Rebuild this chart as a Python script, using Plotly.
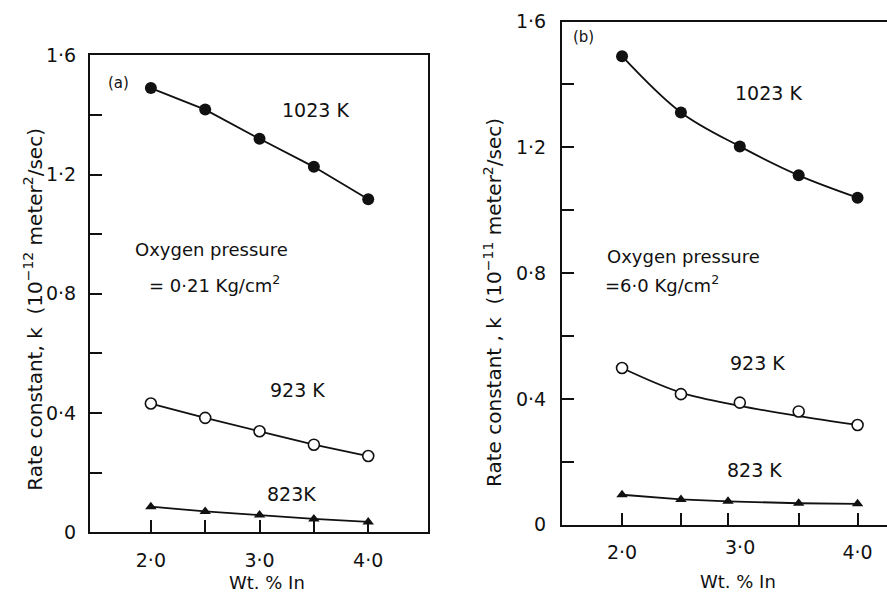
import plotly.graph_objects as go

# ---------------- data ----------------
wt_a = [2.0, 2.5, 3.0, 3.5, 4.0]
k1023_a = [1.49, 1.418, 1.32, 1.226, 1.117]
k923_a = [0.432, 0.384, 0.339, 0.294, 0.256]
k823_a = [0.086, 0.070, 0.058, 0.045, 0.035]

wt_b = [2.0, 2.5, 3.0, 3.5, 4.0]
wt_b823 = [2.0, 2.5, 2.9, 3.5, 4.0]
k1023_b = [1.49, 1.311, 1.203, 1.111, 1.040]
k923_b = [0.498, 0.415, 0.388, 0.360, 0.317]
k923_b_fit = [0.498, 0.420, 0.378, 0.345, 0.317]
k823_b = [0.095, 0.080, 0.074, 0.068, 0.066]

ytick_vals = [0, 0.4, 0.8, 1.2, 1.6]
ytick_text = ["0", "0·4", "0·8", "1·2", "1·6"]
yminor_vals = [0.2, 0.6, 1.0, 1.4]
xtick_vals_a = [2.0, 3.0, 4.0]
xtick_text_a = ["2·0", "3·0", "4·0"]
xminor_vals_a = [2.5, 3.5]
xtick_vals_b = [2.0, 4.0]
xtick_text_b = ["2·0", "4·0"]
xminor_vals_b = [2.5, 2.9, 3.5]
xlabel_b_mid = "3·0"

W, H = 887, 605
FONT = "DejaVu Sans"
BLACK = "#111111"

def px(x):
    return x / W

def py(y):
    return 1 - y / H

fig = go.Figure()

line_style = dict(color=BLACK, width=1.8)

# Panel (a)
fig.add_trace(go.Scatter(x=wt_a, y=k1023_a, mode="lines+markers", line=line_style,
                         marker=dict(symbol="circle", size=12, color=BLACK),
                         xaxis="x", yaxis="y", showlegend=False))
fig.add_trace(go.Scatter(x=wt_a, y=k923_a, mode="lines+markers", line=line_style,
                         marker=dict(symbol="circle", size=11, color="white",
                                     line=dict(color=BLACK, width=1.6)),
                         xaxis="x", yaxis="y", showlegend=False))
fig.add_trace(go.Scatter(x=wt_a, y=k823_a, mode="lines+markers", line=line_style,
                         marker=dict(symbol="triangle-up", size=10, color=BLACK),
                         xaxis="x", yaxis="y", showlegend=False))

# Panel (b)
fig.add_trace(go.Scatter(x=wt_b, y=k1023_b, mode="lines+markers",
                         line=dict(color=BLACK, width=1.8, shape="spline", smoothing=1.0),
                         marker=dict(symbol="circle", size=12, color=BLACK),
                         xaxis="x2", yaxis="y2", showlegend=False))
fig.add_trace(go.Scatter(x=wt_b, y=k923_b_fit, mode="lines",
                         line=dict(color=BLACK, width=1.8, shape="spline", smoothing=1.0),
                         xaxis="x2", yaxis="y2", showlegend=False))
fig.add_trace(go.Scatter(x=wt_b, y=k923_b, mode="markers",
                         marker=dict(symbol="circle", size=11, color="white",
                                     line=dict(color=BLACK, width=1.6)),
                         xaxis="x2", yaxis="y2", showlegend=False))
fig.add_trace(go.Scatter(x=wt_b823, y=k823_b, mode="lines+markers", line=line_style,
                         marker=dict(symbol="triangle-up", size=10, color=BLACK),
                         xaxis="x2", yaxis="y2", showlegend=False))

tickfont = dict(family=FONT, size=19, color=BLACK)
axis_common = dict(showline=True, linecolor=BLACK, linewidth=2, showgrid=False,
                   zeroline=False, ticks="inside", ticklen=12, tickwidth=2,
                   tickcolor=BLACK, tickfont=tickfont, tickmode="array")

def minor(vals):
    return dict(tickmode="array", tickvals=vals, ticks="inside", ticklen=12,
                tickwidth=2, tickcolor=BLACK, showgrid=False)

fig.update_layout(
    width=W, height=H,
    margin=dict(l=0, r=0, t=0, b=0),
    paper_bgcolor="white", plot_bgcolor="white",
    xaxis=dict(domain=[px(90), px(428)], range=[1.44, 4.55], anchor="y",
               tickvals=xtick_vals_a, ticktext=xtick_text_a, minor=minor(xminor_vals_a),
               mirror=True, ticklabelstandoff=10, **axis_common),
    yaxis=dict(domain=[py(541), py(46)], range=[0, 1.6], anchor="x",
               tickvals=ytick_vals, ticktext=ytick_text, minor=minor(yminor_vals),
               mirror=True, ticklabelstandoff=8, **axis_common),
    xaxis2=dict(domain=[px(562), 1.0], range=[1.49, 4.25], anchor="y2",
                tickvals=xtick_vals_b, ticktext=xtick_text_b, minor=minor(xminor_vals_b),
                mirror=True, ticklabelstandoff=10, **axis_common),
    yaxis2=dict(domain=[py(533), py(11)], range=[0, 1.6], anchor="x2",
                tickvals=ytick_vals, ticktext=ytick_text, minor=minor(yminor_vals),
                mirror=False, ticklabelstandoff=10, **axis_common),
)

def note(text, x, y, size=19, xanchor="left", angle=0, xref="paper", yref="paper"):
    fig.add_annotation(text=text, x=x, y=y, xref=xref, yref=yref,
                       xanchor=xanchor, yanchor="middle", showarrow=False,
                       textangle=angle, font=dict(family=FONT, size=size, color=BLACK))

# Panel (a) texts
note("(a)", px(106), py(75), size=15)
note("1023 K", px(280), py(103))
note("Oxygen pressure", px(133), py(248), size=18)
note("= 0·21 Kg/cm<sup>2</sup>", px(147), py(283), size=18)
note("923 K", px(268), py(393))
note("823K", px(265), py(501))
note("Wt. % In", px(267), py(593), size=18, xanchor="center")
note("Rate constant, k  (10<sup>−12</sup> meter<sup>2</sup>/sec)", px(33), py(310),
     size=20, xanchor="center", angle=-90)

# Panel (b) texts
note("(b)", px(571), py(27), size=15)
note("1023 K", px(733), py(85))
note("Oxygen pressure", px(605), py(255), size=18)
note("=6·0 Kg/cm<sup>2</sup>", px(603), py(283), size=18)
note("923 K", px(728), py(365))
note("823 K", px(725), py(476))
note(xlabel_b_mid, 3.0, py(556), size=19, xanchor="center", xref="x2")
note("Wt. % In", px(738), py(592), size=18, xanchor="center")
note("Rate constant , k  (10<sup>−11</sup> meter<sup>2</sup>/sec)", px(493), py(303),
     size=20, xanchor="center", angle=-90)

fig.write_html("out.html")
